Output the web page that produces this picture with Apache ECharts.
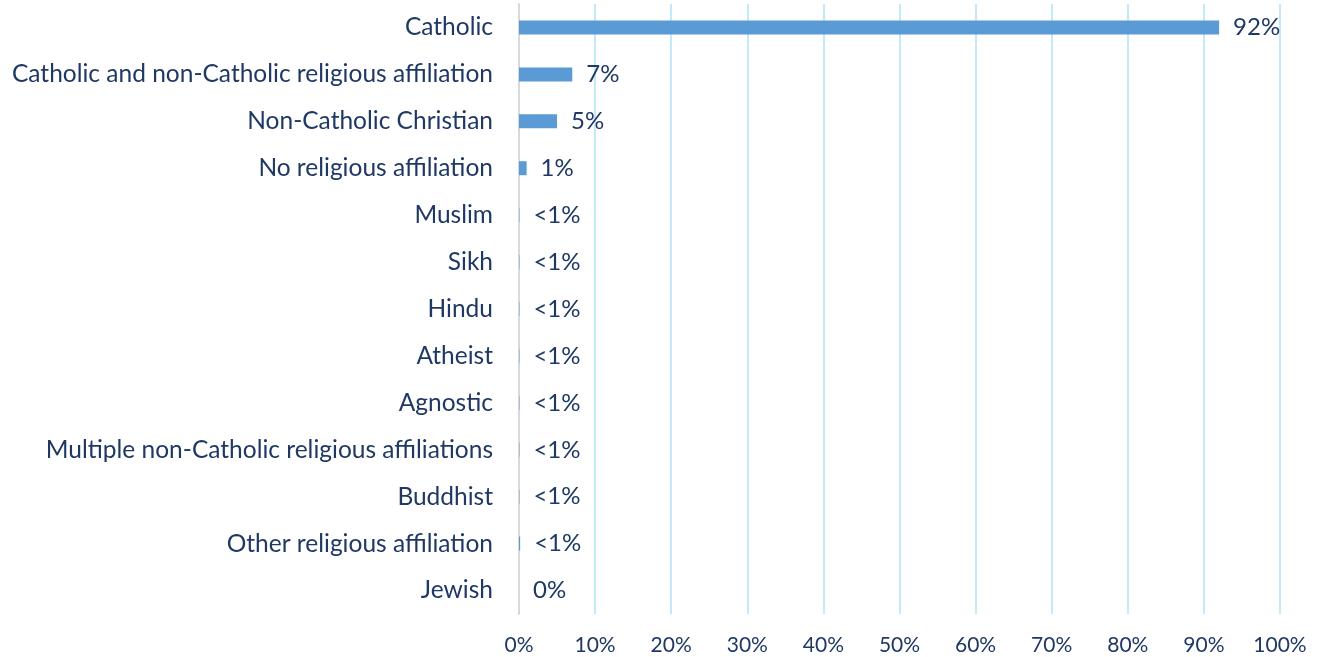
<!DOCTYPE html>
<html>
<head>
<meta charset="utf-8">
<script src="https://cdn.jsdelivr.net/npm/echarts@6/dist/echarts.min.js"></script>
<style>
  html, body { margin: 0; padding: 0; background: #ffffff; }
  #chart { width: 1321px; height: 657px; }
</style>
</head>
<body>
<div id="chart"></div>
<script>
// Religious affiliation shares (percent), listed top to bottom
const categories = [
  'Catholic',
  'Catholic and non-Catholic religious affiliation',
  'Non-Catholic Christian',
  'No religious affiliation',
  'Muslim',
  'Sikh',
  'Hindu',
  'Atheist',
  'Agnostic',
  'Multiple non-Catholic religious affiliations',
  'Buddhist',
  'Other religious affiliation',
  'Jewish'
];
const shares = [92, 7, 5, 1, 0.05, 0.05, 0.05, 0.05, 0.05, 0.05, 0.05, 0.15, 0];
const shareLabels = ['92%', '7%', '5%', '1%', '<1%', '<1%', '<1%', '<1%', '<1%', '<1%', '<1%', '<1%', '0%'];
const percentTicks = [0, 10, 20, 30, 40, 50, 60, 70, 80, 90, 100];

const textColor = '#1f3864';
const fontFamily = 'Lato, "Open Sans", sans-serif';

const chart = echarts.init(document.getElementById('chart'), null, { renderer: 'canvas' });

chart.setOption({
  animation: false,
  backgroundColor: '#ffffff',
  grid: {
    left: 519,
    right: 41,
    top: 4,
    bottom: 43,
    outerBoundsMode: 'none',
    containLabel: false
  },
  xAxis: {
    type: 'value',
    min: percentTicks[0],
    max: percentTicks[percentTicks.length - 1],
    interval: percentTicks[1] - percentTicks[0],
    axisLine: { show: false },
    axisTick: { show: false },
    axisLabel: {
      margin: 21,
      color: textColor,
      fontSize: 21,
      fontFamily: fontFamily,
      formatter: '{value}%'
    },
    splitLine: { show: true, lineStyle: { color: '#c4eafa', width: 2 } }
  },
  yAxis: {
    type: 'category',
    inverse: true,
    data: categories,
    axisLine: { show: true, lineStyle: { color: '#d9d9d9', width: 2 } },
    axisTick: { show: false },
    axisLabel: {
      margin: 26,
      color: textColor,
      fontSize: 24.5,
      fontFamily: fontFamily
    },
    splitLine: { show: false }
  },
  series: [{
    type: 'bar',
    data: shares,
    barWidth: 14,
    itemStyle: { color: '#5b9bd5' },
    label: {
      show: true,
      position: 'right',
      distance: 14,
      color: textColor,
      fontSize: 24,
      fontFamily: fontFamily,
      formatter: (p) => shareLabels[p.dataIndex]
    }
  }]
});
</script>
</body>
</html>
